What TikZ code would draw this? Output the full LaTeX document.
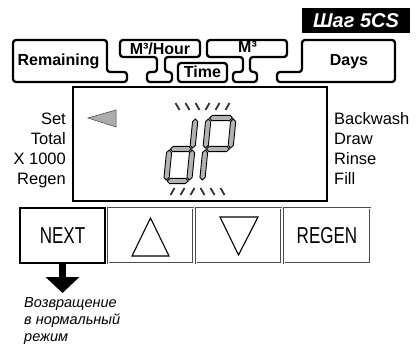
\documentclass[tikz,border=0pt]{standalone}
\usepackage{fontspec}
\setmainfont{Liberation Sans}
\newfontfamily\narrowsans[FakeStretch=0.74]{Liberation Sans}
\usetikzlibrary{arrows.meta}

\tikzset{
  tab/.style={line width=2.3pt, rounded corners=3pt},
  tablabel/.style={font=\bfseries\fontsize{16}{17}\selectfont, inner sep=0pt},
  sidelabel/.style={font=\fontsize{16.5}{18}\selectfont, inner sep=0pt},
  key/.style={minimum width=85pt, minimum height=55pt, inner sep=0pt,
    font=\narrowsans\fontsize{23}{24}\selectfont},
  softkey/.style={key, draw=black!70, double=white, double distance=0.6pt, line width=0.5pt},
  segment/.style={fill=gray!60, draw=black, line width=0.9pt, line join=miter},
  flash/.style={draw=gray!40!black, line width=1.8pt},
}

\begin{document}
\begin{tikzpicture}[x=1pt, y=-1pt]
    \useasboundingbox (0,0) rectangle (417,347);

    % Titulo
    \node[fill=black, text=white, minimum width=108pt, minimum height=25pt,
      font=\bfseries\itshape\fontsize{20}{22}\selectfont] (stepbox) at (356,20.5) {Шаг 5CS};

    % Pestanas superiores
    \draw[tab] (13,40) -- (107,40) -- (107,72) -- (127,72) -- (127,82) -- (13,82) -- cycle;
    \draw[tab] (120,40) -- (200,40) -- (200,57) -- (165,57) -- (165,72) -- (172,72)
      -- (172,82) -- (147,82) -- (147,72) -- (157,72) -- (157,57) -- (120,57) -- cycle;
    \draw[tab] (178,63) rectangle (227,82);
    \draw[tab] (207,40) -- (287,40) -- (287,57) -- (250,57) -- (250,72) -- (257,72)
      -- (257,82) -- (233,82) -- (233,72) -- (243,72) -- (243,57) -- (207,57) -- cycle;
    \draw[tab] (395,40) -- (302,40) -- (302,72) -- (277,72) -- (277,82) -- (395,82) -- cycle;
    \node[tablabel, anchor=base] (remaining) at (58.5,65.5) {Remaining};
    \node[tablabel, anchor=base] (rate) at (160,55) {M³/Hour};
    \node[tablabel, anchor=base] (time) at (202.5,78) {Time};
    \node[tablabel, anchor=base] (volume) at (247.5,53) {M³};
    \node[tablabel, anchor=base] (days) at (349,65.5) {Days};

    % Pantalla
    \node[draw, line width=1.5pt, minimum width=254pt, minimum height=114pt] (lcd) at (200,144) {};
    \filldraw[fill=gray!65, draw=gray!50!black, line width=0.5pt] (88,118) -- (116,110) -- (116,127) -- cycle;
    \foreach \t [count=\i] in {Set,Total,X 1000,Regen}
        \node[sidelabel, anchor=base east] (mode\i) at (66,{105+20*\i}) {\t};
    \foreach \t [count=\i] in {Backwash,Draw,Rinse,Fill}
        \node[sidelabel, anchor=base west] (cycle\i) at (334,{105+20*\i}) {\t};

    % Digitos dP
    \begin{scope}[shift={(0,183)}, xslant=0.1]
        \foreach \x/\ya/\yb in {189/-64/-35, 189/-33/-3, 166/-33/-3,
                                202/-64/-35, 227/-64/-35, 202/-33/-3}
            \filldraw[segment] (\x,\ya) -- ({\x+2.6},{\ya+2.6}) -- ({\x+2.6},{\yb-2.6}) -- (\x,\yb)
              -- ({\x-2.6},{\yb-2.6}) -- ({\x-2.6},{\ya+2.6}) -- cycle;
        \foreach \xa/\xb/\y in {167/188/-34, 167/188/-2, 203/226/-65, 203/226/-34}
            \filldraw[segment] (\xa,\y) -- ({\xa+2.6},{\y-2.6}) -- ({\xb-2.6},{\y-2.6}) -- (\xb,\y)
              -- ({\xb-2.6},{\y+2.6}) -- ({\xa+2.6},{\y+2.6}) -- cycle;
    \end{scope}

    % Parpadeo
    \foreach \x in {177.5,187.5,197.5} \draw[flash] ({\x-2},103) -- ({\x+2},110);
    \foreach \x in {207.5,217.5,227.5} \draw[flash] ({\x+2},103) -- ({\x-2},110);
    \foreach \x in {172.5,182.5,192.5} \draw[flash] ({\x+2},188) -- ({\x-2},195);
    \foreach \x in {202.5,212.5,222.5} \draw[flash] ({\x-2},188) -- ({\x+2},195);

    % Botones
    \node[key, draw, line width=2pt] (next) at (62.5,235.5) {NEXT};
    \node[softkey] (up) at (150.5,235.5) {};
    \node[softkey] (down) at (238.5,235.5) {};
    \node[softkey, minimum width=86pt] (regen) at (327,235.5) {REGEN};
    \draw[line width=1.1pt] ([shift={(0,-17.5)}]up.center) -- ([shift={(-18.5,20.5)}]up.center)
      -- ([shift={(18.5,20.5)}]up.center) -- cycle;
    \draw[line width=1.1pt] ([shift={(-18.5,-18.5)}]down.center) -- ([shift={(19.5,-18.5)}]down.center)
      -- ([shift={(0,19.5)}]down.center) -- cycle;

    % Flecha y nota
    \coordinate (nexttip) at (62.5,293);
    \draw[line width=7pt, -{Triangle[width=33pt,length=16pt]}] (next.south) -- (nexttip);
    \node[font=\itshape\fontsize{14.5}{17}\selectfont, align=left, anchor=north west,
      inner sep=0pt] (backnote) at (24,297) {Возвращение\\в нормальный\\режим};
\end{tikzpicture}
\end{document}
